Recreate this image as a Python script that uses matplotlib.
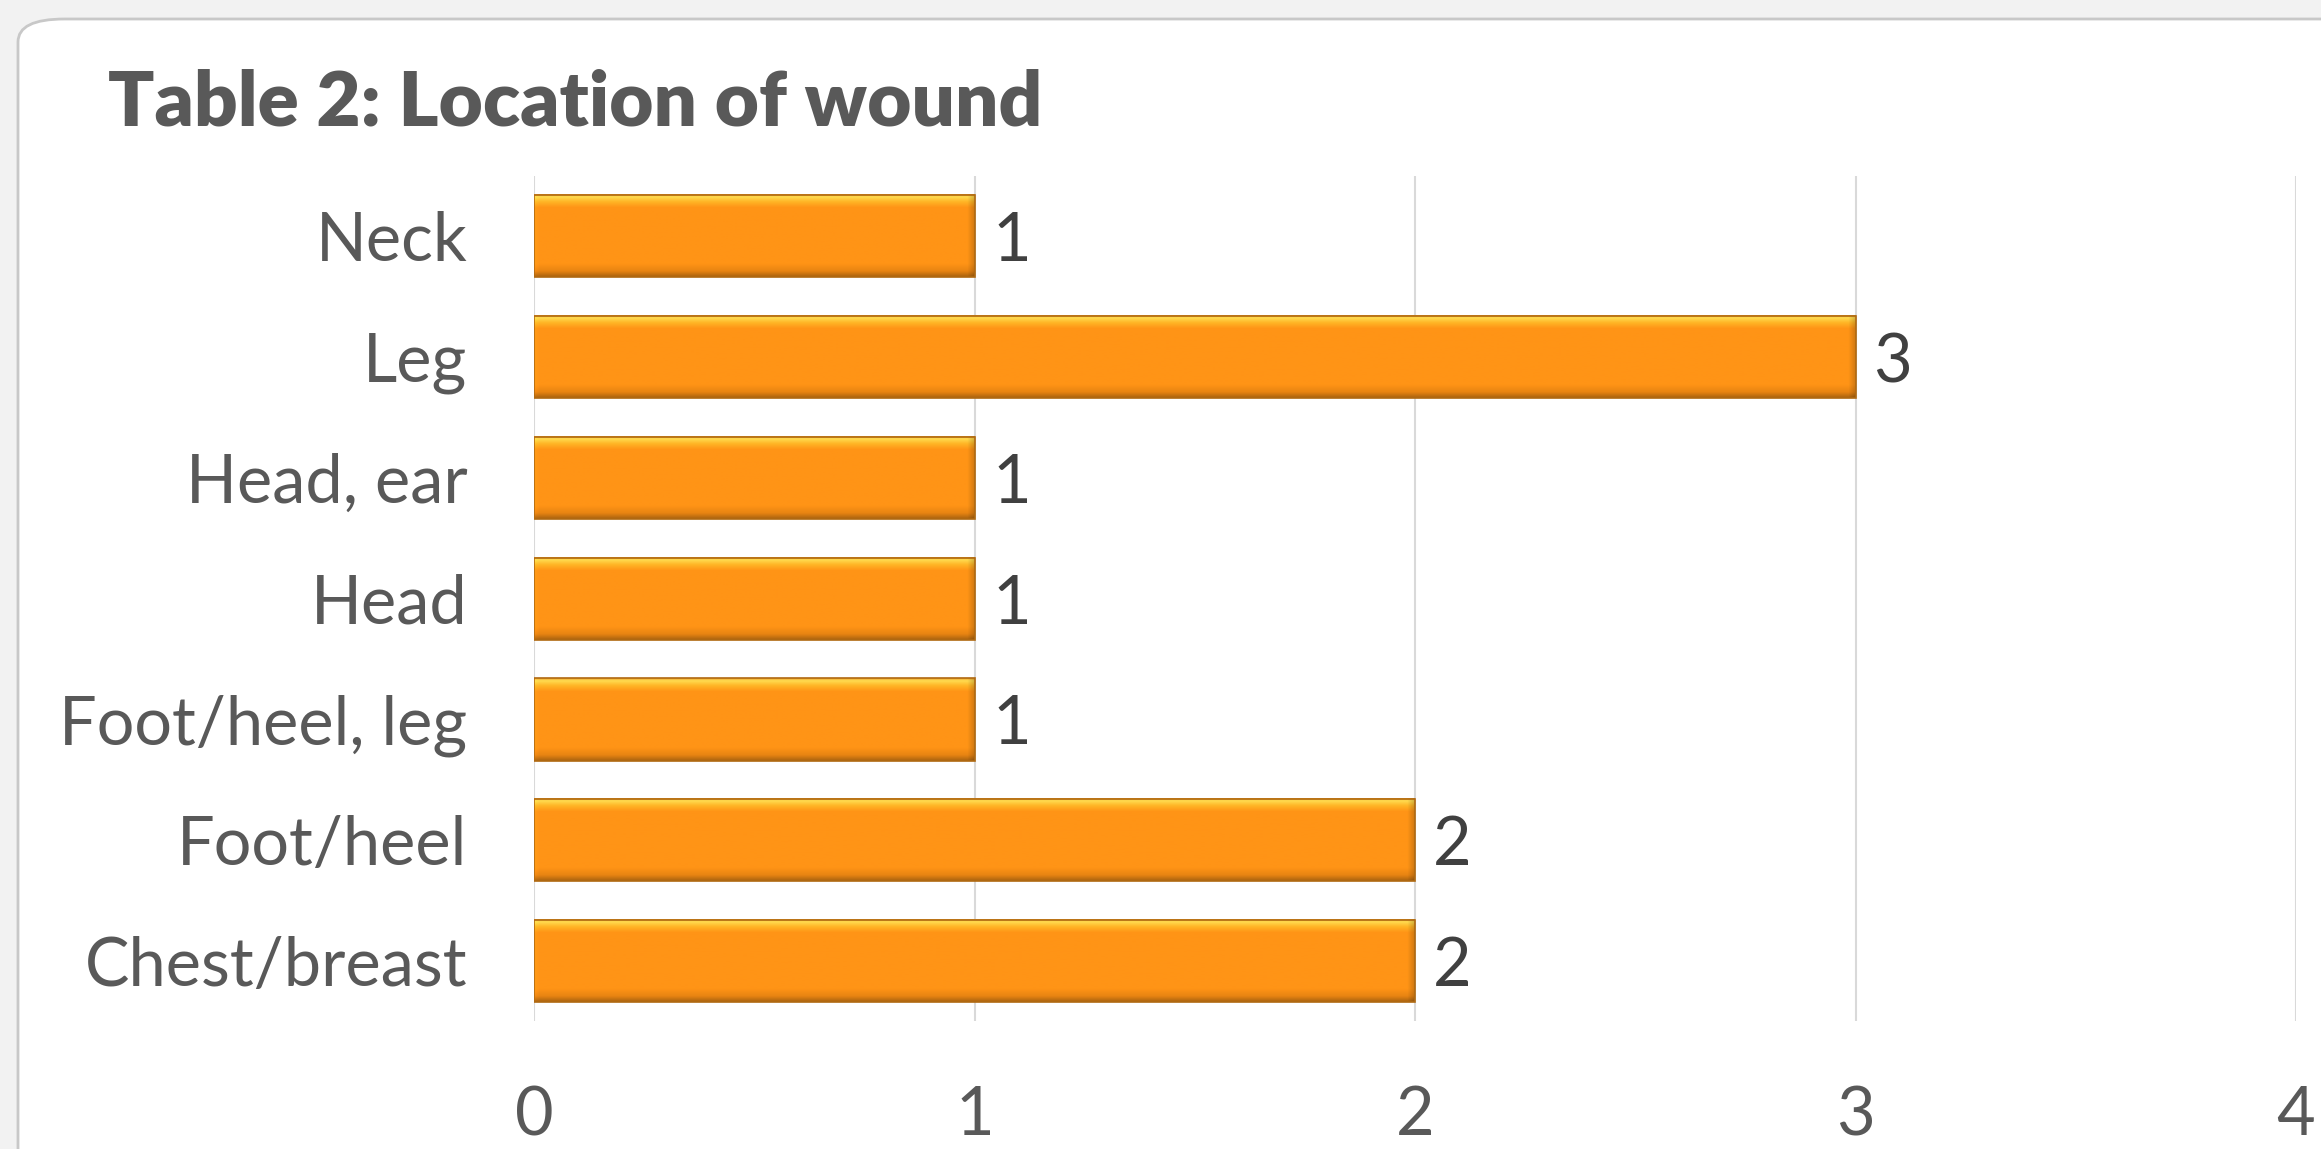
import numpy as np
import matplotlib
matplotlib.use("Agg")
import matplotlib.pyplot as plt
from matplotlib.patches import FancyBboxPatch, Rectangle
from matplotlib.colors import to_rgb

categories = ["Neck", "Leg", "Head, ear", "Head", "Foot/heel, leg", "Foot/heel", "Chest/breast"]
counts = [1, 3, 1, 1, 1, 2, 2]
x_ticks = [0, 1, 2, 3, 4]
title = "Table 2: Location of wound"

text_grey = "#595959"
font = ["Lato", "DejaVu Sans"]

fig = plt.figure(figsize=(23.21, 11.49), dpi=100, facecolor="#F2F2F2")

# white card with rounded corner, running off the right and bottom edges
card = FancyBboxPatch(
    (18 / 2321, -0.2), 1.2, 1 - 19 / 1149 + 0.2,
    boxstyle="round,pad=0,rounding_size=0.02",
    transform=fig.transFigure, facecolor="white", edgecolor="#C8C8C8",
    linewidth=2, zorder=-5,
)
fig.patches.append(card)

fig.text(108 / 2321, 1 - 126 / 1149, title, fontsize=55, fontweight="heavy",
         color=text_grey, family=font, va="baseline", ha="left")

ax = fig.add_axes([534 / 2321, 0.111, (2296 - 534) / 2321, 0.847 - 0.111])
ax.set_facecolor("none")

bar_h = 0.68
# bevel profile from top edge to bottom edge of a bar
stops = [(0.0, "#F0A030"), (0.03, "#FFDC50"), (0.09, "#FFB526"), (0.16, "#FF9416"),
         (0.84, "#FF9416"), (0.93, "#E88412"), (1.0, "#A8620F")]
pos = np.linspace(0, 1, 200)
prof = np.array([[np.interp(p, [s[0] for s in stops], [to_rgb(s[1])[c] for s in stops])
                  for c in range(3)] for p in pos])

for i, v in enumerate(counts):
    ncol = int(v * 440)
    shade = np.ones(ncol)
    shade[:6] = np.linspace(1.05, 1.0, 6)
    shade[-8:] = np.linspace(1.0, 0.82, 8)
    img = np.clip(prof[:, None, :] * shade[None, :, None], 0, 1)
    ax.imshow(img, extent=(0, v, i + bar_h / 2, i - bar_h / 2),
              aspect="auto", interpolation="bilinear", zorder=3)
    ax.add_patch(Rectangle((0, i - bar_h / 2), v, bar_h, facecolor="none",
                           edgecolor="#B06A12", linewidth=1.2, zorder=4))
    ax.text(v + 0.04, i + 0.05, str(v), va="center", ha="left",
            fontsize=48, color="#404040", family=font, zorder=5)

ax.set_xlim(0, 4)
ax.set_ylim(len(categories) - 0.5, -0.5)
ax.set_xticks(x_ticks)
ax.set_xticklabels([str(t) for t in x_ticks])
ax.set_yticks(range(len(categories)))
ax.set_yticklabels(categories)
ax.grid(axis="x", color="#D9D9D9", linewidth=1.5, zorder=1)
ax.set_axisbelow(True)
for s in ax.spines.values():
    s.set_visible(False)
ax.tick_params(axis="both", length=0, labelcolor=text_grey, labelsize=48)
ax.tick_params(axis="x", pad=46)
ax.tick_params(axis="y", pad=48)
for lab in ax.get_xticklabels() + ax.get_yticklabels():
    lab.set_family(font)

fig.savefig("out.png", dpi=100, facecolor=fig.get_facecolor())
